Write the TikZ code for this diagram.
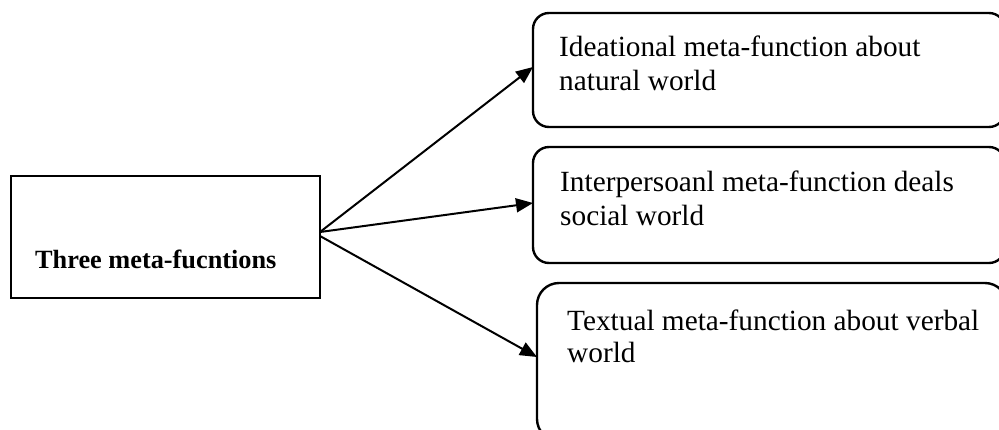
\documentclass[tikz,border=0pt]{standalone}
\usepackage{fontspec}
\setmainfont{Liberation Serif}
\usetikzlibrary{arrows.meta}
\begin{document}
\begin{tikzpicture}[x=1pt,y=-1pt,
  box/.style={draw, line width=2.4pt, inner sep=0pt, outer sep=0pt, anchor=north west},
  rbox/.style={box, rounded corners=16pt},
  txt/.style={font=\fontsize{29.3}{34.5}\selectfont, anchor=base west, inner sep=0pt},
  conn/.style={line width=2pt, -{Triangle[length=17pt,width=14pt]}}]
\useasboundingbox (0,0) rectangle (999,429);
\node[box, minimum width=309pt, minimum height=122pt] (L) at (11,176) {};
\node[font=\bfseries\fontsize{26.3}{30}\selectfont, anchor=base west, inner sep=0pt] (lt) at (35,268.3) {Three meta-fucntions};
\node[rbox, minimum width=472pt, minimum height=114pt] (B1) at (533,13) {};
\node[rbox, minimum width=472pt, minimum height=116pt] (B2) at (533,147) {};
\node[box, rounded corners=22pt, minimum width=470pt, minimum height=158pt] (B3) at (537,283) {};
\node[txt] (t1a) at (559,56) {Ideational meta-function about};
\node[txt] (t1b) at (559,90.7) {natural world};
\node[txt] (t2a) at (560,191.7) {Interpersoanl meta-function deals};
\node[txt] (t2b) at (560,225) {social world};
\node[txt] (t3a) at (567,330) {Textual meta-function about verbal};
\node[txt] (t3b) at (567,362) {world};
\draw[conn] ([yshift=5pt]L.east) -- ([yshift=3pt]B1.west);
\draw[conn] ([yshift=5pt]L.east) -- ([yshift=2pt]B2.west);
\draw[conn] ([yshift=1pt]L.east) -- ([yshift=5pt]B3.west);
\end{tikzpicture}
\end{document}
